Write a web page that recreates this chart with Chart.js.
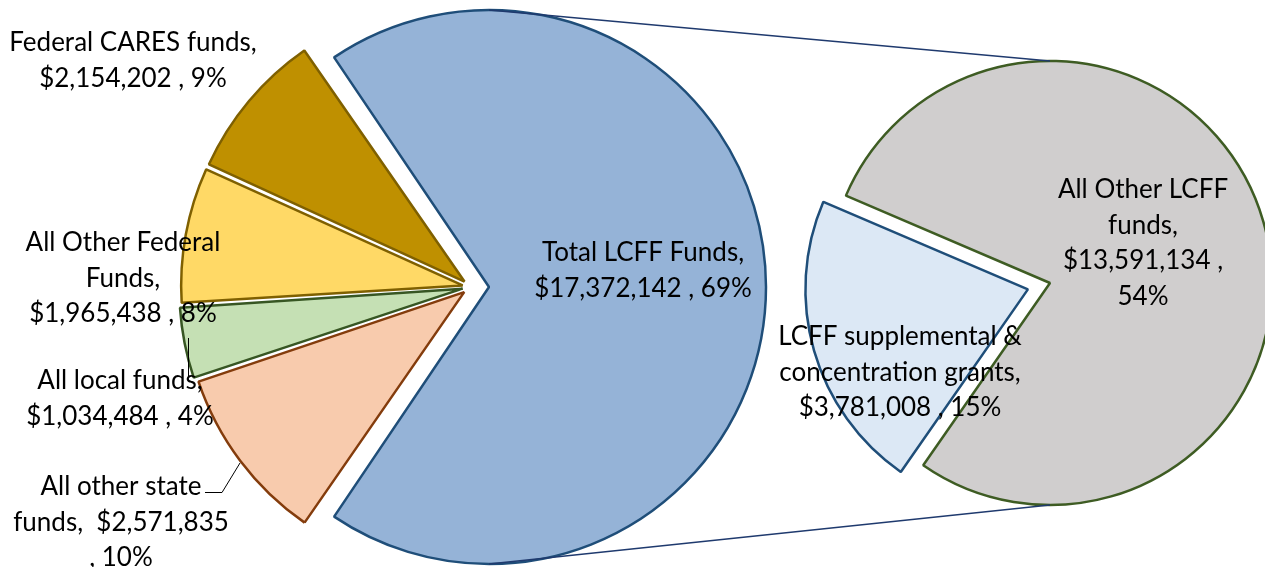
<!DOCTYPE html>
<html>
<head>
<meta charset="utf-8">
<title>LCFF funding pie of pie</title>
<script src="https://cdn.jsdelivr.net/npm/chart.js@4.4.0/dist/chart.umd.min.js"></script>
<style>
    body { margin: 0; background: #ffffff; }
    #wrap { position: relative; width: 1265px; height: 567px; }
    #wrap canvas { position: absolute; left: 0; top: 0; }
</style>
</head>
<body>
<div id="wrap">
    <canvas id="mainPie" width="1265" height="567"></canvas>
    <canvas id="subPie" width="1265" height="567"></canvas>
</div>
<script>
// Main pie: LCFF total first, then clockwise around the left side
const mainNames = ['Total LCFF Funds', 'All other state funds', 'All local funds', 'All Other Federal Funds', 'Federal CARES funds'];
const mainValues = [17372142, 2571835, 1034484, 1965438, 2154202];
const mainPercents = [69, 10, 4, 8, 9];

// Breakdown of the LCFF slice
const subNames = ['LCFF supplemental & concentration grants', 'All Other LCFF funds'];
const subValues = [3781008, 13591134];
const subPercents = [15, 54];

const money = v => '$' + v.toLocaleString('en-US');
const LINE_H = 35.5;

// Label text, broken into lines the way the source chart wraps them
const mainLabelLines = [
    ['Total LCFF Funds,', money(mainValues[0]) + ' , ' + mainPercents[0] + '%'],
    ['All other state', 'funds,  ' + money(mainValues[1]), ', ' + mainPercents[1] + '%'],
    ['All local funds,', money(mainValues[2]) + ' , ' + mainPercents[2] + '%'],
    ['All Other Federal', 'Funds,', money(mainValues[3]) + ' , ' + mainPercents[3] + '%'],
    ['Federal CARES funds,', money(mainValues[4]) + ' , ' + mainPercents[4] + '%']
];
const subLabelLines = [
    ['LCFF supplemental &', 'concentration grants,', money(subValues[0]) + ' , ' + subPercents[0] + '%'],
    ['All Other LCFF', 'funds,', money(subValues[1]) + ' ,', subPercents[1] + '%']
];

// where each label block sits (centre x, first line y)
const mainLabelPos = [[643, 253], [121, 487], [120, 381], [123, 243], [133, 43]];
const subLabelPos = [[900, 337], [1143, 190]];

const mainOffsets = [72, 34, 34, 34, 34];
const subOffsets = [92, 0];

function drawLabels(ctx, lines, pos) {
    ctx.save();
    ctx.font = '26px Lato, "Open Sans", sans-serif';
    ctx.fillStyle = '#000000';
    ctx.textAlign = 'center';
    ctx.textBaseline = 'middle';
    lines.forEach((block, i) => {
        block.forEach((txt, k) => ctx.fillText(txt, pos[i][0], pos[i][1] + k * LINE_H));
    });
    ctx.restore();
}

// Chart.js grows the radius of an exploded arc wider than 180deg; undo that
const bigArcFix = {
    id: 'bigArcFix',
    afterUpdate(chart) {
        const offs = chart.data.datasets[0].offset;
        chart.getDatasetMeta(0).data.forEach((arc, i) => {
            if (arc.endAngle - arc.startAngle >= Math.PI) {
                arc.outerRadius -= (offs[i] || 0) / 4;
            }
        });
    }
};

const mainLabelPlugin = {
    id: 'mainLabels',
    afterDraw(chart) {
        const ctx = chart.ctx;
        // leader lines for the two small slices on the left
        ctx.save();
        ctx.strokeStyle = '#000000';
        ctx.lineWidth = 1;
        ctx.beginPath();
        ctx.moveTo(205, 492.5);
        ctx.lineTo(222, 492.5);
        ctx.lineTo(240, 463);
        ctx.moveTo(188.5, 338);
        ctx.lineTo(188.5, 378);
        ctx.stroke();
        ctx.restore();
        drawLabels(ctx, mainLabelLines, mainLabelPos);
    }
};

const mainFraction = mainValues[0] / mainValues.reduce((a, b) => a + b, 0);

const mainChart = new Chart(document.getElementById('mainPie'), {
    type: 'pie',
    data: {
        labels: mainNames,
        datasets: [{
            data: mainValues,
            backgroundColor: ['#95b3d7', '#f8cbad', '#c5e0b4', '#ffd966', '#bf9000'],
            borderColor: ['#1f4e79', '#843c0c', '#375623', '#7f6000', '#7f6000'],
            borderWidth: 2.5,
            offset: mainOffsets
        }]
    },
    options: {
        responsive: false,
        animation: false,
        events: [],
        radius: 277,
        rotation: 90 - mainFraction * 180,
        layout: { padding: { left: 0, right: 323, top: 7, bottom: 0 } },
        plugins: {
            legend: { display: false },
            tooltip: { enabled: false }
        }
    },
    plugins: [bigArcFix, mainLabelPlugin]
});

const subLabelPlugin = {
    id: 'subLabels',
    afterDraw(chart) {
        const ctx = chart.ctx;
        // connector lines from the LCFF slice to the breakdown pie
        const big = mainChart.getDatasetMeta(0).data[0];
        const shift = mainOffsets[0] / 4;
        const mid = (big.startAngle + big.endAngle) / 2;
        const bx = big.x + Math.cos(mid) * shift;
        const by = big.y + Math.sin(mid) * shift;
        const bigR = big.outerRadius + shift;
        const sub = chart.getDatasetMeta(0).data[1];
        ctx.save();
        ctx.strokeStyle = '#1f3a6e';
        ctx.lineWidth = 1.5;
        ctx.beginPath();
        ctx.moveTo(bx, by - bigR);
        ctx.lineTo(sub.x, sub.y - sub.outerRadius);
        ctx.moveTo(bx, by + bigR);
        ctx.lineTo(sub.x, sub.y + sub.outerRadius);
        ctx.stroke();
        ctx.restore();
        drawLabels(ctx, subLabelLines, subLabelPos);
    }
};

const subFraction = subValues[0] / (subValues[0] + subValues[1]);

const subChart = new Chart(document.getElementById('subPie'), {
    type: 'pie',
    data: {
        labels: subNames,
        datasets: [{
            data: subValues,
            backgroundColor: ['#dce8f5', '#d0cece'],
            borderColor: ['#1f4e79', '#3e5c23'],
            borderWidth: 2.5,
            offset: subOffsets
        }]
    },
    options: {
        responsive: false,
        animation: false,
        events: [],
        radius: 222,
        rotation: 90 + 164 - subFraction * 180,
        layout: { padding: { left: 835, right: 0, top: 0, bottom: 1 } },
        plugins: {
            legend: { display: false },
            tooltip: { enabled: false }
        }
    },
    plugins: [bigArcFix, subLabelPlugin]
});
</script>
</body>
</html>
